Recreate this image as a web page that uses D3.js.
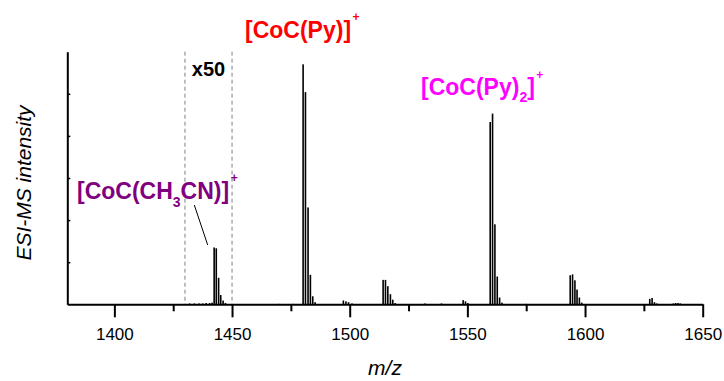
<!DOCTYPE html>
<html><head><meta charset="utf-8">
<script src="https://cdn.jsdelivr.net/npm/d3@7"></script>
<style>
html,body{margin:0;padding:0;background:#fff;}
text{font-family:Arial,"Liberation Sans",sans-serif;}
</style></head>
<body><svg id="c" width="724" height="381"></svg>
<script>
// m/z positions of sticks
const mz = [
  1432.0,1434.0,1436.0,1437.5,1439.0,1440.5,1441.5,
  1442.4,1443.3,1444.3,1445.2,1446.2,1447.2,
  1470.0,1476.0,
  1480.2,1481.2,1482.3,1483.3,1484.3,1485.3,
  1497.3,1498.4,1499.5,1501.0,
  1514.2,1515.2,1516.2,1517.3,1518.3,1519.3,
  1532.0,1539.0,
  1548.2,1549.2,1550.2,
  1559.7,1560.7,1561.7,1562.7,1563.7,1564.7,
  1575.0,
  1593.7,1594.7,1595.7,1596.6,1597.6,1598.6,
  1627.5,1628.5,1629.5,1630.5,
  1637.5,1638.5,1639.5,1640.5
];
// intensities (arbitrary units, axis spans 0-6)
const intensity = [
  0.02,0.02,0.02,0.02,0.03,0.03,0.04,
  1.35,1.33,0.63,0.22,0.09,0.03,
  0.01,0.01,
  5.70,5.04,2.30,0.70,0.19,0.05,
  0.09,0.07,0.05,0.02,
  0.58,0.58,0.43,0.24,0.11,0.03,
  0.02,0.02,
  0.10,0.07,0.03,
  4.33,4.53,1.90,0.66,0.16,0.04,
  0.01,
  0.69,0.71,0.57,0.35,0.16,0.04,
  0.13,0.15,0.05,0.02,
  0.02,0.03,0.03,0.02
];
const xMajorTicks = [1400,1450,1500,1550,1600,1650];
const xMinorTicks = [1425,1475,1525,1575,1625];
const yTicks = [1,2,3,4,5];
const zoomRegion = [1430,1450];
const xDomain = [1380,1650];
const yDomain = [0,6];

const svg = d3.select("#c");
const x = d3.scaleLinear().domain(xDomain).range([67.3,702.7]);
const y = d3.scaleLinear().domain(yDomain).range([304.3,51.7]);

// dashed zoom region lines
svg.append("g").selectAll("line").data(zoomRegion).join("line")
  .attr("x1",d=>x(d)).attr("x2",d=>x(d))
  .attr("y1",y(6)).attr("y2",y(0))
  .attr("stroke","#808080").attr("stroke-width",1).attr("stroke-dasharray","4,3");

svg.append("text").attr("x",(x(zoomRegion[0])+x(zoomRegion[1]))/2).attr("y",75.5)
  .attr("text-anchor","middle").attr("font-weight","bold").attr("font-size",20)
  .text("x50");

// sticks
const data = mz.map((m,i)=>({m, v:intensity[i]}));
svg.append("g").selectAll("rect").data(data).join("rect")
  .attr("x",d=>x(d.m)-0.8).attr("width",1.6)
  .attr("y",d=>y(d.v)).attr("height",d=>y(0)-y(d.v))
  .attr("fill","#000");

// axes
const xAxisMajor = d3.axisBottom(x).tickValues(xMajorTicks).tickSize(13).tickSizeOuter(0).tickPadding(11).tickFormat(d3.format("d"));
const gx = svg.append("g").attr("transform",`translate(0,${y(0)})`).call(xAxisMajor);
gx.select(".domain").attr("stroke-width",2);
gx.selectAll(".tick line").attr("stroke-width",2);
gx.selectAll(".tick text").attr("font-size",17).attr("font-family","Arial, 'Liberation Sans', sans-serif").attr("fill","#000");
const gxm = svg.append("g").attr("transform",`translate(0,${y(0)})`)
  .call(d3.axisBottom(x).tickValues(xMinorTicks).tickSize(7).tickFormat(""));
gxm.select(".domain").remove();
gxm.selectAll(".tick line").attr("stroke-width",2);

const gy = svg.append("g").attr("transform",`translate(${x(1380)},0)`)
  .call(d3.axisRight(y).tickValues(yTicks).tickSize(3).tickSizeOuter(0).tickFormat(""));
gy.select(".domain").attr("stroke-width",2);
gy.selectAll(".tick line").attr("stroke-width",1.5);

// axis titles
svg.append("text").attr("x",(x(1380)+x(1650))/2).attr("y",375).attr("text-anchor","middle")
  .attr("font-style","italic").attr("font-size",21).text("m/z");
svg.append("text").attr("transform","translate(31,183) rotate(-90)").attr("text-anchor","middle")
  .attr("font-style","italic").attr("font-size",21).text("ESI-MS intensity");

// annotations
function label(px, py, color, parts){
  const t = svg.append("text").attr("x",px).attr("y",py).attr("fill",color)
    .attr("font-weight","bold").attr("font-size",23);
  parts.forEach(p=>{
    const s = t.append("tspan").text(p.t);
    if(p.fs) s.attr("font-size",p.fs);
    if(p.dy) s.attr("dy",p.dy);
    if(p.dx) s.attr("dx",p.dx);
  });
}
label(245,38,"#ff0000",[{t:"[CoC(Py)]"},{t:"+",fs:12,dx:1.5,dy:-17}]);
label(421,95,"#ff00ff",[{t:"[CoC(Py)"},{t:"2",fs:14,dy:7},{t:"]",dy:-7},{t:"+",fs:12,dx:1.5,dy:-16}]);
label(77,198.5,"#800080",[{t:"[CoC(CH"},{t:"3",fs:14,dy:8},{t:"CN)]",dy:-8},{t:"+",fs:12,dx:1.5,dy:-16.5}]);

// leader line
svg.append("line").attr("x1",194.3).attr("y1",205).attr("x2",207.7).attr("y2",245)
  .attr("stroke","#000").attr("stroke-width",1);
</script></body></html>
